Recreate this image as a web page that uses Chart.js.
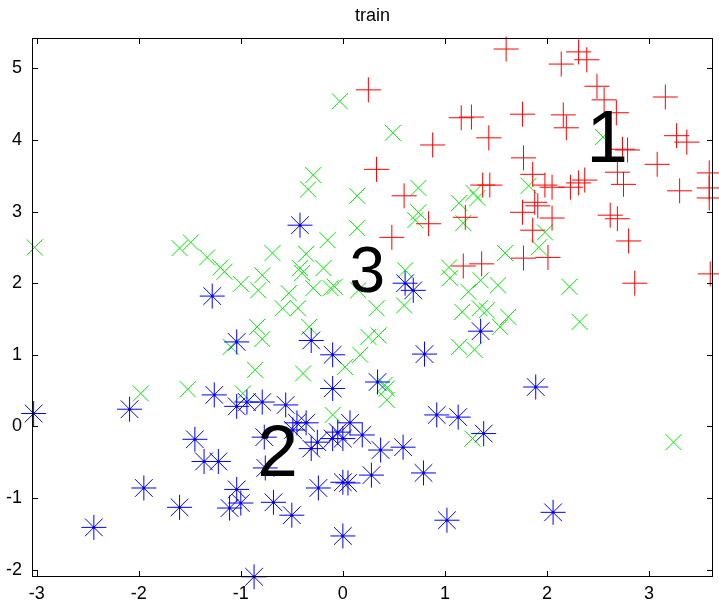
<!DOCTYPE html>
<html>
<head>
<meta charset="utf-8">
<script src="https://cdn.jsdelivr.net/npm/chart.js@4.4.0/dist/chart.umd.min.js"></script>
<style>
  html, body { margin: 0; padding: 0; background: #fff; overflow: hidden; }
  canvas { display: block; }
</style>
</head>
<body>
<canvas id="chart" width="719" height="603"></canvas>
<script>
// axis ticks
const xTicks = [-3, -2, -1, 0, 1, 2, 3];
const yTicks = [-2, -1, 0, 1, 2, 3, 4, 5];

// class 1 (red +)
const class1X = [0.25,1.16,1.26,0.88,1.43,0.33,0.60,1.37,1.44,1.20,0.84,0.48,1.18,1.36,1.60,2.14,2.31,2.39,2.49,2.56,2.68,1.76,2.16,2.19,3.16,3.27,3.37,2.74,2.79,1.77,3.08,2.69,2.75,3.30,3.59,3.59,3.59,1.86,1.98,2.05,2.23,2.31,2.37,1.88,1.91,1.76,2.05,2.62,2.69,1.86,2.80,1.77,2.01,2.86,3.60];
const class1Y = [4.70,4.31,4.32,3.93,4.03,3.59,3.22,3.37,3.37,2.92,2.83,2.64,2.24,2.27,5.27,5.06,5.23,5.12,4.75,4.56,4.38,4.36,4.35,4.17,4.60,4.06,3.97,3.87,3.86,3.75,3.66,3.55,3.38,3.29,3.54,3.33,3.19,3.52,3.37,3.34,3.34,3.40,3.44,3.13,3.08,2.99,2.91,2.95,2.90,2.74,2.59,2.35,2.36,2.00,2.13];

// class 2 (blue *)
const class2X = [-0.42,-1.28,-1.04,0.61,0.69,1.35,-0.31,-0.10,0.80,0.34,-0.10,1.89,-3.03,-2.09,-1.26,-1.04,-0.94,-0.79,-1.45,-1.36,-1.22,-1.95,-1.60,-2.44,-1.04,-1.11,-1.00,-0.87,-0.56,0.92,1.13,1.38,-0.45,-0.36,-0.49,-0.05,0.07,0.00,-0.10,0.19,-0.25,-0.31,-0.77,0.37,0.59,-0.76,0.79,0.28,0.00,0.05,-0.24,-0.68,-0.50,0.00,1.02,2.06];
const class2Y = [2.81,1.82,1.18,2.00,1.90,1.33,1.20,1.00,1.01,0.62,0.53,0.55,0.18,0.24,0.44,0.28,0.34,0.34,-0.18,-0.49,-0.49,-0.86,-1.13,-1.41,-0.88,-1.14,-1.07,-2.10,0.30,0.16,0.13,-0.10,0.05,0.05,-0.05,-0.08,0.05,-0.17,-0.17,-0.12,-0.22,-0.31,-0.15,-0.33,-0.29,-0.58,-0.65,-0.68,-0.78,-0.79,-0.86,-1.06,-1.24,-1.53,-1.31,-1.20];

// class 3 (green x)
const class3X = [-0.03,0.49,-0.29,-0.34,0.14,0.74,0.74,0.71,1.14,1.28,1.32,2.55,1.82,-3.02,-1.60,-1.49,-1.33,-1.20,-1.16,-1.00,-0.83,-0.79,-0.84,-0.79,-1.10,-0.86,-1.98,-1.52,-0.98,1.18,0.14,-0.15,-0.69,-0.36,-0.42,-0.40,-0.19,-0.53,-0.29,-0.12,-0.08,0.15,-0.59,-0.44,0.33,0.60,0.61,1.04,1.05,1.23,1.35,1.17,1.34,1.14,1.29,-0.33,0.25,0.35,0.17,0.02,-0.39,0.41,1.98,1.92,1.59,1.52,2.22,1.41,1.62,1.54,2.32,-0.10,0.43,0.43,1.27,3.24];
const class3Y = [4.54,4.10,3.51,3.31,3.22,3.33,2.99,2.88,3.12,3.26,3.19,4.04,3.36,2.50,2.49,2.57,2.36,2.22,2.16,1.99,1.90,2.11,1.39,1.22,1.11,0.79,0.46,0.52,0.46,2.84,2.77,2.60,2.42,2.41,2.21,2.14,2.21,1.86,1.93,1.93,1.95,1.90,1.65,1.65,1.65,1.69,2.18,2.22,2.07,1.88,2.04,1.60,1.65,1.11,1.07,1.39,1.25,1.27,1.00,0.83,0.74,0.58,2.71,2.50,2.42,1.97,1.95,1.62,1.53,1.39,1.46,0.16,0.53,0.37,-0.17,-0.22];

// big class labels
const labelText = ["1", "2", "3"];
const labelX = [2.59, -0.64, 0.24];
const labelY = [4.00, -0.39, 2.14];
const labelSize = [75, 73, 64];

const FONT = "'Liberation Sans', Arial, sans-serif";

const pts = (xs, ys) => xs.map((x, i) => ({ x, y: ys[i] }));

// box, inward ticks, title and class labels
const framePlugin = {
  id: "frame",
  afterDatasetsDraw(chart) {
    const { ctx, chartArea: a, scales } = chart;
    const tl = 6;
    ctx.save();
    ctx.strokeStyle = "#000";
    ctx.lineWidth = 1;
    ctx.beginPath();
    xTicks.forEach((v) => {
      const px = Math.round(scales.x.getPixelForValue(v)) + 0.5;
      ctx.moveTo(px, a.bottom); ctx.lineTo(px, a.bottom - tl);
      ctx.moveTo(px, a.top); ctx.lineTo(px, a.top + tl);
    });
    yTicks.forEach((v) => {
      const py = Math.round(scales.y.getPixelForValue(v)) + 0.5;
      ctx.moveTo(a.left, py); ctx.lineTo(a.left + tl, py);
      ctx.moveTo(a.right, py); ctx.lineTo(a.right - tl, py);
    });
    ctx.stroke();
    ctx.strokeRect(Math.round(a.left) + 0.5, Math.round(a.top) + 0.5,
      Math.round(a.right - a.left) - 1, Math.round(a.bottom - a.top) - 1);

    ctx.fillStyle = "#000";
    ctx.textAlign = "center";
    ctx.textBaseline = "middle";
    labelText.forEach((t, i) => {
      ctx.font = `${labelSize[i]}px ${FONT}`;
      const px = scales.x.getPixelForValue(labelX[i]);
      const py = scales.y.getPixelForValue(labelY[i]);
      ctx.fillText(t, px, py + labelSize[i] * 0.02);
    });

    ctx.font = `18px ${FONT}`;
    ctx.fillText("train", (a.left + a.right) / 2, 16);
    ctx.restore();
  },
};

new Chart(document.getElementById("chart"), {
  type: "scatter",
  data: {
    datasets: [
      {
        label: "1",
        data: pts(class1X, class1Y),
        pointStyle: "cross",
        pointRadius: 12.5,
        borderColor: "#ff0000",
        backgroundColor: "#ff0000",
        borderWidth: 1,
        clip: false,
      },
      {
        label: "2",
        data: pts(class2X, class2Y),
        pointStyle: "star",
        pointRadius: 12.5,
        borderColor: "#0000ff",
        backgroundColor: "#0000ff",
        borderWidth: 1,
        clip: false,
      },
      {
        label: "2 centre",
        data: pts(class2X, class2Y),
        pointStyle: "circle",
        pointRadius: 1.5,
        borderWidth: 0,
        backgroundColor: "#0000ff",
        clip: false,
      },
      {
        label: "3",
        data: pts(class3X, class3Y),
        pointStyle: "crossRot",
        pointRadius: 11.3,
        borderColor: "#00ee00",
        backgroundColor: "#00ee00",
        borderWidth: 1,
        clip: false,
      },
    ],
  },
  options: {
    responsive: false,
    animation: false,
    events: [],
    layout: { autoPadding: false, padding: { top: 38, right: 6, left: 0, bottom: 0 } },
    plugins: {
      legend: { display: false },
      tooltip: { enabled: false },
      title: { display: false },
    },
    scales: {
      x: {
        type: "linear",
        min: -3.046,
        max: 3.627,
        afterBuildTicks: (s) => { s.ticks = xTicks.map((v) => ({ value: v })); },
        afterFit: (s) => { s.height = 26; s.paddingLeft = 0; s.paddingRight = 0; },
        grid: { display: false, drawTicks: false },
        border: { display: false },
        ticks: {
          padding: 6,
          color: "#000",
          font: { family: FONT, size: 18 },
          maxRotation: 0,
        },
      },
      y: {
        type: "linear",
        min: -2.103,
        max: 5.424,
        afterBuildTicks: (s) => { s.ticks = yTicks.map((v) => ({ value: v })); },
        afterFit: (s) => { s.width = 32; s.paddingTop = 0; s.paddingBottom = 0; },
        grid: { display: false, drawTicks: false },
        border: { display: false },
        ticks: {
          padding: 10,
          color: "#000",
          font: { family: FONT, size: 18 },
        },
      },
    },
  },
  plugins: [framePlugin],
});
</script>
</body>
</html>
